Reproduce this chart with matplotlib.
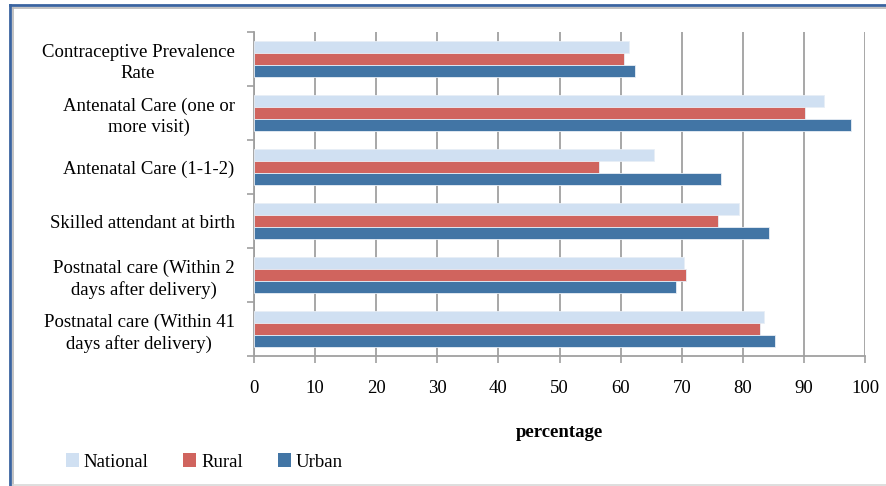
import matplotlib
matplotlib.use("Agg")
import matplotlib.pyplot as plt
from matplotlib.lines import Line2D
from matplotlib.patches import Patch
import numpy as np

categories = [
    "Contraceptive Prevalence\nRate",
    "Antenatal Care (one or\nmore visit)",
    "Antenatal Care (1-1-2)",
    "Skilled attendant at birth",
    "Postnatal care (Within 2\ndays after delivery)",
    "Postnatal care (Within 41\ndays after delivery)",
]
national = [61.4, 93.3, 65.5, 79.4, 70.3, 83.4]
rural = [60.6, 90.1, 56.5, 75.9, 70.7, 82.8]
urban = [62.4, 97.7, 76.5, 84.3, 69.1, 85.3]
series_names = ["National", "Rural", "Urban"]
colors = ["#D0E0F2", "#D0645E", "#4275A5"]
xticks = [0, 10, 20, 30, 40, 50, 60, 70, 80, 90, 100]

W, H = 886, 486
fig = plt.figure(figsize=(W / 100, H / 100), dpi=100)
fig.patch.set_facecolor("white")
plt.rcParams["font.family"] = ["Liberation Serif", "DejaVu Serif"]

left, right, top, bottom = 254, 865, 32, 356
ax = fig.add_axes([left / W, 1 - bottom / H, (right - left) / W, (bottom - top) / H])

n = len(categories)
y = np.arange(n)
bh = 0.222
for i, (vals, col, name) in enumerate(zip([national, rural, urban], colors, series_names)):
    ax.barh(y + (i - 1) * bh, vals, height=bh, color=col, edgecolor="#e8eef6",
            linewidth=0.6, label=name, zorder=3)

ax.set_xlim(0, 100)
ax.set_ylim(n - 0.5, -0.5)
ax.set_xticks(xticks)
ax.set_xticklabels([str(t) for t in xticks], fontsize=13.5)
ax.set_yticks(y)
ax.set_yticklabels(categories, fontsize=13.5, linespacing=1.3)
for lab in ax.get_yticklabels():
    lab.set_multialignment("center")
ax.yaxis.set_minor_locator(matplotlib.ticker.FixedLocator(np.arange(-0.5, n, 1.0)))
ax.tick_params(axis="y", which="major", length=0, pad=14)
ax.tick_params(axis="y", which="minor", length=5, color="#a0a0a0", width=1.2)
ax.tick_params(axis="x", length=5, color="#a0a0a0", width=1.2, pad=12)
ax.grid(axis="x", color="#a0a0a0", linewidth=1.3, zorder=0)
for s in ["top", "right"]:
    ax.spines[s].set_visible(False)
for s in ["left", "bottom"]:
    ax.spines[s].set_color("#a0a0a0")
    ax.spines[s].set_linewidth(1.3)
ax.set_xlabel("percentage", fontsize=13.5, fontweight="bold", labelpad=20)

handles = [Patch(facecolor=c, edgecolor="none") for c in colors]
fig.legend(handles, series_names, loc="center left", bbox_to_anchor=(49 / W, 1 - 462 / H),
           ncol=3, frameon=False, fontsize=13.5, handlelength=0.7, handleheight=0.7,
           handletextpad=0.25, columnspacing=1.85)

# outer frame
def fl(xs, ys, c, lw):
    fig.add_artist(Line2D([x / W for x in xs], [1 - v / H for v in ys], color=c, lw=lw,
                          transform=fig.transFigure))
fl([9.5, 9.5], [5.5, 486], "#3a64a0", 2.0)
fl([9.5, 886], [5.5, 5.5], "#3a64a0", 2.0)
fl([12.5, 12.5], [8.5, 486], "#b8b8b8", 1.2)
fl([12.5, 886], [8.5, 8.5], "#b8b8b8", 1.2)
fl([12.5, 886], [484.5, 484.5], "#d8d8d8", 1.2)

fig.savefig("out.png", dpi=100)
